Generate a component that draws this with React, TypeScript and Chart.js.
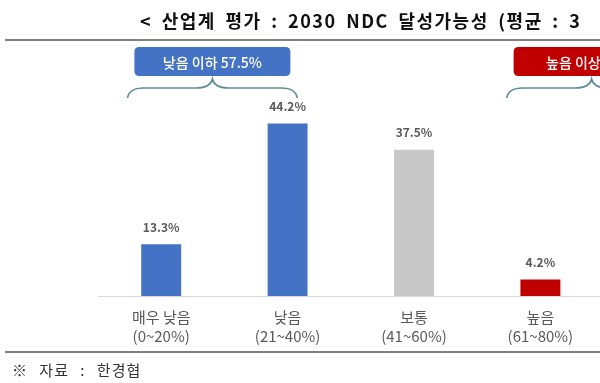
import React, { useEffect, useRef } from 'react';
import { Chart, registerables } from 'chart.js';

Chart.register(...registerables);

const titleText = '< 산업계 평가 : 2030 NDC 달성가능성 (평균 : 3';
const sourceText = '※ 자료 : 한경협';
const categoryNames = ['매우 낮음', '낮음', '보통', '높음', '매우 높음'];
const categoryRanges = ['(0~20%)', '(21~40%)', '(41~60%)', '(61~80%)', '(81~100%)'];
const values = [13.3, 44.2, 37.5, 4.2, 0.8];
const barColors = ['#4472C4', '#4472C4', '#C8C8C8', '#C00000', '#C00000'];
const groupLabels = ['낮음 이하 57.5%', '높음 이상 5.0%'];
const groupColors = ['#4472C4', '#C00000'];
const groupStart = [0, 3];
const groupEnd = [1, 4];

const FONT = '"Noto Sans CJK KR", "Noto Sans", sans-serif';

const overlayPlugin = {
  id: 'overlay',
  beforeDatasetsDraw(chart: any) {
    const ctx = chart.ctx;
    const y0 = chart.scales.y.getPixelForValue(0);
    ctx.save();
    ctx.strokeStyle = '#D9D9D9';
    ctx.lineWidth = 1;
    ctx.beginPath();
    ctx.moveTo(chart.chartArea.left, Math.round(y0) + 0.5);
    ctx.lineTo(chart.width, Math.round(y0) + 0.5);
    ctx.stroke();
    ctx.restore();
  },
  afterDatasetsDraw(chart: any) {
    const ctx = chart.ctx;
    const xs = chart.scales.x;
    const y0 = chart.scales.y.getPixelForValue(0);
    const meta = chart.getDatasetMeta(0);
    ctx.save();
    ctx.textAlign = 'center';
    ctx.textBaseline = 'middle';
    // value labels
    ctx.font = `bold 12px ${FONT}`;
    ctx.fillStyle = '#595959';
    meta.data.forEach((bar: any, i: number) => {
      ctx.fillText(values[i].toFixed(1) + '%', bar.x, bar.y - 17);
    });
    // category labels
    ctx.font = `15px ${FONT}`;
    categoryNames.forEach((n, i) => {
      const cx = xs.getPixelForValue(i);
      ctx.fillText(n, cx, y0 + 21);
      ctx.fillText(categoryRanges[i], cx, y0 + 40);
    });
    // group boxes + braces
    groupLabels.forEach((label, g) => {
      const a = xs.getPixelForValue(groupStart[g]);
      const b = xs.getPixelForValue(groupEnd[g]);
      const mid = (a + b) / 2 - 12;
      const bw = 156;
      const bx = mid - bw / 2;
      const by = 47;
      const bh = 29;
      const r = 5;
      ctx.fillStyle = groupColors[g];
      ctx.beginPath();
      ctx.moveTo(bx + r, by);
      ctx.lineTo(bx + bw - r, by);
      ctx.quadraticCurveTo(bx + bw, by, bx + bw, by + r);
      ctx.lineTo(bx + bw, by + bh - r);
      ctx.quadraticCurveTo(bx + bw, by + bh, bx + bw - r, by + bh);
      ctx.lineTo(bx + r, by + bh);
      ctx.quadraticCurveTo(bx, by + bh, bx, by + bh - r);
      ctx.lineTo(bx, by + r);
      ctx.quadraticCurveTo(bx, by, bx + r, by);
      ctx.closePath();
      ctx.fill();
      ctx.fillStyle = '#FFFFFF';
      ctx.font = `500 14px ${FONT}`;
      ctx.fillText(label, mid, by + bh / 2 + 1);
      // brace
      const hw = 85;
      const yEnd = 98;
      const yMid = 88;
      const yTop = 79;
      const cr = 16;
      ctx.strokeStyle = '#5E8C99';
      ctx.lineWidth = 1.6;
      ctx.beginPath();
      ctx.moveTo(mid - hw, yEnd);
      ctx.quadraticCurveTo(mid - hw + 2, yMid, mid - hw + cr, yMid);
      ctx.lineTo(mid - cr, yMid);
      ctx.quadraticCurveTo(mid - 2, yMid, mid, yTop);
      ctx.quadraticCurveTo(mid + 2, yMid, mid + cr, yMid);
      ctx.lineTo(mid + hw - cr, yMid);
      ctx.quadraticCurveTo(mid + hw - 2, yMid, mid + hw, yEnd);
      ctx.stroke();
    });
    ctx.restore();
  },
};

export default function App() {
  const canvasRef = useRef<HTMLCanvasElement | null>(null);

  useEffect(() => {
    const canvas = canvasRef.current;
    if (!canvas) return;
    const chart = new Chart(canvas, {
      type: 'bar',
      data: {
        labels: categoryNames,
        datasets: [
          {
            data: values,
            backgroundColor: barColors,
            borderWidth: 0,
            barPercentage: 0.316,
            categoryPercentage: 1,
          },
        ],
      },
      options: {
        responsive: false,
        animation: false,
        devicePixelRatio: 1,
        layout: { padding: { left: 98, right: 30, top: 101, bottom: 87 } },
        plugins: {
          legend: { display: false },
          tooltip: { enabled: false },
          title: { display: false },
        },
        scales: {
          x: { display: false, offset: true },
          y: { display: false, min: 0, max: 50 },
        },
      },
      plugins: [overlayPlugin],
    });
    return () => chart.destroy();
  }, []);

  return (
    <div
      style={{
        position: 'absolute',
        left: 0,
        top: 0,
        width: 600,
        height: 383,
        overflow: 'hidden',
        background: '#FFFFFF',
        fontFamily: FONT,
      }}
    >
      <canvas
        ref={canvasRef}
        width={760}
        height={383}
        style={{ position: 'absolute', left: 0, top: 0, width: 760, height: 383 }}
      />
      <div
        style={{
          position: 'absolute',
          left: 140,
          top: 8,
          fontSize: 18,
          fontWeight: 700,
          color: '#111111',
          whiteSpace: 'nowrap',
          lineHeight: '24px',
          letterSpacing: 1.5,
          wordSpacing: 4,
        }}
      >
        {titleText}
      </div>
      <div style={{ position: 'absolute', left: 5, top: 39, width: 595, height: 2, background: '#808080' }} />
      <div style={{ position: 'absolute', left: 5, top: 351, width: 595, height: 2, background: '#808080' }} />
      <div
        style={{
          position: 'absolute',
          left: 12,
          top: 359,
          fontSize: 15,
          color: '#333333',
          whiteSpace: 'nowrap',
          lineHeight: '22px',
          letterSpacing: 1,
          wordSpacing: 7,
        }}
      >
        {sourceText}
      </div>
    </div>
  );
}
